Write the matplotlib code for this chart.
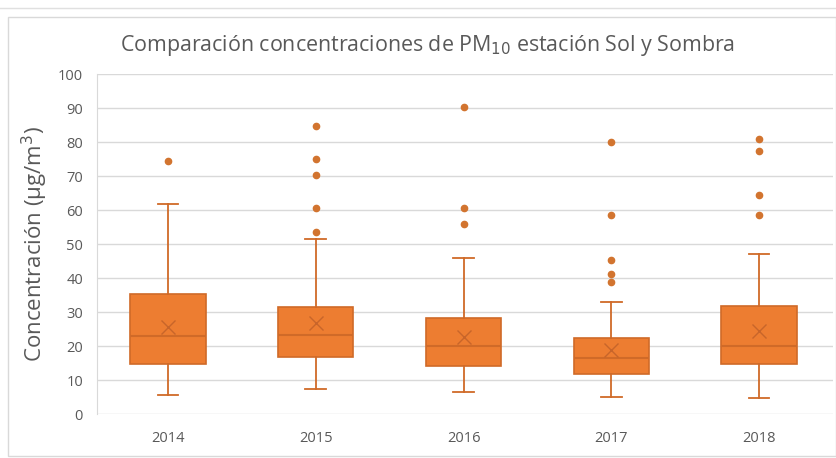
import matplotlib
matplotlib.use("Agg")
import matplotlib.pyplot as plt
from matplotlib.patches import Rectangle
from matplotlib.lines import Line2D

years = ["2014", "2015", "2016", "2017", "2018"]
q1 = [14.7, 16.8, 14.1, 11.8, 14.7]
median = [22.9, 23.2, 20.0, 16.6, 20.0]
q3 = [35.3, 31.5, 28.2, 22.3, 31.9]
whisker_low = [5.6, 7.4, 6.5, 5.1, 4.8]
whisker_high = [61.9, 51.5, 45.9, 32.8, 47.0]
mean = [25.7, 26.7, 22.6, 18.9, 24.3]
outliers = [
    [74.4],
    [84.6, 75.1, 70.4, 60.7, 53.6],
    [90.3, 60.7, 55.9],
    [80.1, 58.4, 45.2, 41.3, 38.9],
    [80.8, 77.4, 64.3, 58.6],
]
yticks = list(range(0, 101, 10))

fill = "#ED7D31"
edge = "#D06A28"
grey = "#595959"

plt.rcParams['font.family'] = ['Open Sans', 'DejaVu Sans']

fig = plt.figure(figsize=(8.37, 4.58), dpi=100)
ax = fig.add_axes([97/837, 1-414/458, (833-97)/837, (414-74)/458])

stats = []
for i in range(len(years)):
    stats.append(dict(label=years[i], q1=q1[i], med=median[i], q3=q3[i],
                      whislo=whisker_low[i], whishi=whisker_high[i],
                      mean=mean[i], fliers=outliers[i]))

positions = list(range(1, len(years) + 1))
ax.bxp(stats, positions=positions, widths=0.51, capwidths=0.14,
       patch_artist=True, showmeans=True, showfliers=True,
       boxprops=dict(facecolor=fill, edgecolor=edge, linewidth=1.2),
       medianprops=dict(color=edge, linewidth=1.5),
       whiskerprops=dict(color=edge, linewidth=1.3),
       capprops=dict(color=edge, linewidth=1.3),
       meanprops=dict(marker='x', markeredgecolor="#C8652A", markersize=10,
                      markeredgewidth=1.0),
       flierprops=dict(marker='o', markerfacecolor="#D2742F",
                       markeredgecolor="#D2742F", markersize=4.5))

ax.set_xlim(0.52, 5.5)
ax.set_ylim(0, 100)
ax.set_yticks(yticks)
ax.set_xticks(positions)
ax.set_xticklabels(years)
ax.yaxis.grid(True, color="#D9D9D9", linewidth=1.0)
ax.set_axisbelow(True)
for s in ["top", "right", "bottom"]:
    ax.spines[s].set_visible(False)
ax.spines["left"].set_color("#D9D9D9")
ax.tick_params(axis='both', length=0, colors=grey, labelsize=10.5)
ax.tick_params(axis='x', pad=12)
ax.tick_params(axis='y', pad=10)

ax.set_ylabel("Concentración (µg/m$^3$)", fontsize=16, color=grey, labelpad=6)

fig.text(428/837, 1-45/458, "Comparación concentraciones de PM$_{10}$ estación Sol y Sombra",
         ha='center', va='center', fontsize=15.4, color=grey)

# chart frame
fig.add_artist(Rectangle((8/837, 1-456/458), (836-8)/837, (456-17)/458,
                         transform=fig.transFigure, fill=False,
                         edgecolor="#D9D9D9", linewidth=1.0))
fig.add_artist(Line2D([0, 1], [1-8/458, 1-8/458], transform=fig.transFigure,
                      color="#E0E0E0", linewidth=1.0))

fig.savefig("out.png", dpi=100)
